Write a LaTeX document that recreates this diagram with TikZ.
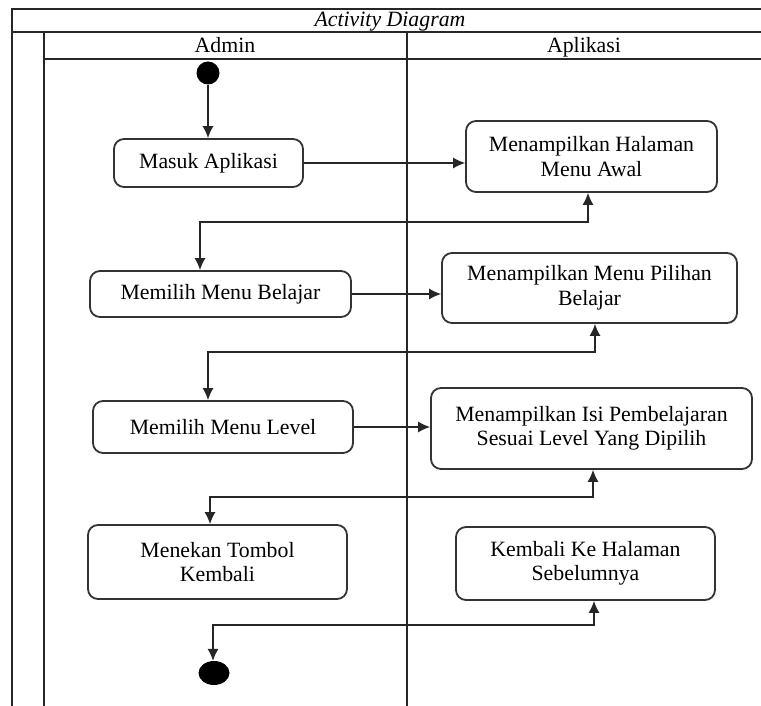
\documentclass[tikz,border=0pt]{standalone}
\usepackage{fontspec}
\setmainfont{Liberation Serif}
\usetikzlibrary{arrows.meta,shapes.geometric}
\begin{document}
\begin{tikzpicture}[x=1pt,y=-1pt,
  lane/.style={line width=1.8pt, draw=black!85},
  txt/.style={font=\fontsize{21.8}{24.5}\selectfont, text=black, inner sep=0pt},
  act/.style 2 args={draw=black!80, line width=1.8pt, rounded corners=10pt,
    align=center, txt, minimum width=#1, minimum height=#2},
  flow/.style={line width=1.2pt, draw=black!85, -{Latex[length=12pt,width=11pt]}},
  flowboth/.style={line width=1.2pt, draw=black!85,
    {Latex[length=12pt,width=11pt]}-{Latex[length=12pt,width=11pt]}},
  startdot/.style={circle, fill=black, minimum size=23pt, inner sep=0pt},
  enddot/.style={ellipse, fill=black, minimum width=31pt, minimum height=24pt, inner sep=0pt},
]
\useasboundingbox (0,0) rectangle (761,706);
\fill[white] (0,0) rectangle (761,706);

% swimlane frame
\draw[lane] (12,720) -- (12,9) -- (780,9);
\draw[lane] (12,32) -- (780,32);
\draw[lane] (44,32) -- (44,720);
\draw[lane] (44,59) -- (780,59);
\draw[lane] (407,32) -- (407,720);

% titles
\node[txt, font=\fontsize{21.8}{24.5}\selectfont\itshape, anchor=base] (title) at (390,27) {Activity Diagram};
\node[txt, anchor=base] (admin) at (225,53) {Admin};
\node[txt, anchor=base] (aplikasi) at (584,53) {Aplikasi};

% activities
\node[startdot] (start) at (208,73) {};
\node[act={189pt}{48pt}] (masuk) at (208.5,163) {Masuk Aplikasi};
\node[act={251pt}{71pt}] (awal) at (591.5,156.5) {Menampilkan Halaman\\Menu Awal};
\node[act={261pt}{46pt}] (belajar) at (220.5,294) {Memilih Menu Belajar};
\node[act={295pt}{70pt}] (pilihan) at (589.5,288) {Menampilkan Menu Pilihan\\Belajar};
\node[act={260pt}{52pt}] (level) at (223,427) {Memilih Menu Level};
\node[act={321pt}{81pt}] (isi) at (591.5,428.5) {Menampilkan Isi Pembelajaran\\Sesuai Level Yang Dipilih};
\node[act={259pt}{74pt}] (tombol) at (217.5,562) {Menekan Tombol\\Kembali};
\node[act={259pt}{73pt}] (kembali) at (585.5,563.5) {Kembali Ke Halaman\\Sebelumnya};
\node[enddot] (end) at (214,673) {};

% elbow points of the return connectors
\coordinate (e1a) at (200,222); \coordinate (e1b) at (588,222);
\coordinate (e2a) at (208,352); \coordinate (e2b) at (595,352);
\coordinate (e3a) at (210,497); \coordinate (e3b) at (593,497);
\coordinate (e4a) at (213,625); \coordinate (e4b) at (594,625);

% connectors
\draw[flow] (start) -- (start |- masuk.north);
\draw[flow] (masuk.east) -- (masuk.east -| awal.west);
\draw[flowboth] (belajar.north -| e1a) -- (e1a) -- (e1b) -- (awal.south -| e1b);
\draw[flow] (belajar.east) -- (belajar.east -| pilihan.west);
\draw[flowboth] (level.north -| e2a) -- (e2a) -- (e2b) -- (pilihan.south -| e2b);
\draw[flow] (level.east) -- (level.east -| isi.west);
\draw[flowboth] (tombol.north -| e3a) -- (e3a) -- (e3b) -- (isi.south -| e3b);
\draw[flowboth] (end.north -| e4a) -- (e4a) -- (e4b) -- (kembali.south -| e4b);
\end{tikzpicture}
\end{document}
